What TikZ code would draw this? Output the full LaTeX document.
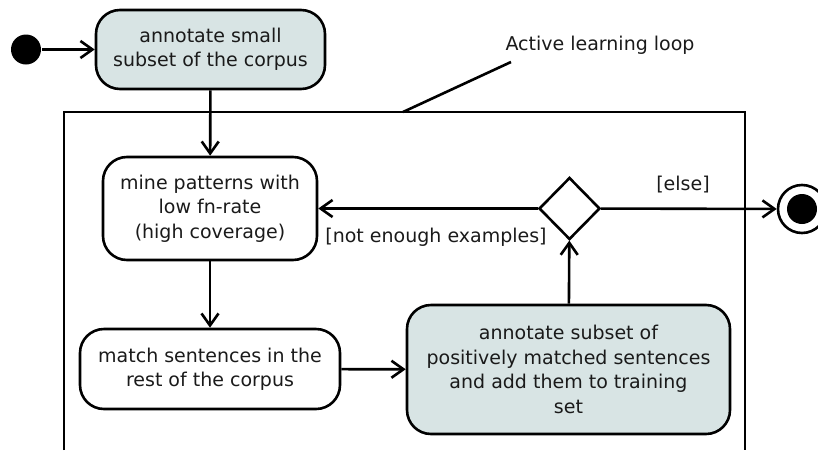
\documentclass[tikz,border=0pt]{standalone}
\usepackage{fontspec}
\setmainfont{DejaVu Sans}
\usetikzlibrary{arrows.meta,shapes.geometric}
\definecolor{actfill}{RGB}{216,228,228}
\definecolor{txt}{RGB}{26,26,26}
\begin{document}
\begin{tikzpicture}[x=1pt,y=-1pt,
  line width=2.6pt,
  font=\fontsize{19}{24.5}\selectfont,
  every node/.style={text=txt},
  act/.style={draw, rounded corners=24pt, align=center, inner sep=0pt},
  annot/.style={act, fill=actfill},
  choice/.style={draw, diamond, inner sep=0pt, minimum width=61pt, minimum height=62pt},
  flow/.style={-{Straight Barb[length=12pt,width=17pt]}},
  guard/.style={inner sep=0pt, align=center}]
\useasboundingbox (0,0) rectangle (818,450);

% initial and final nodes
\node[circle, fill=black, inner sep=0pt, minimum size=30pt] (start) at (26,49.5) {};
\node[circle, draw, inner sep=0pt, minimum size=48pt] (stop) at (802,209) {};
\node[circle, fill=black, inner sep=0pt, minimum size=30pt] (stopdot) at (802,209) {};

% activities
\node[annot, minimum width=229pt, minimum height=79pt] (seed) at (210.5,49.5)
  {annotate small\\subset of the corpus};
\node[act, minimum width=214pt, minimum height=103pt] (mine) at (210,208.5)
  {mine patterns with\\low fn-rate\\(high coverage)};
\node[act, minimum width=260pt, minimum height=80pt] (match) at (210,369)
  {match sentences in the\\rest of the corpus};
\node[annot, minimum width=323pt, minimum height=129pt] (label) at (568.5,369.5)
  {annotate subset of\\positively matched sentences\\and add them to training\\set};
\node[choice] (enough) at (569.5,208.5) {};

% loop frame, open at the bottom, with its note
\coordinate (fbl) at (64,450);
\coordinate (ftr) at (745,112);
\coordinate (fbr) at (745,450);
\draw (fbl) |- (ftr) -- (fbr);
\node (loopnote) at (600,45) {Active learning loop};
\coordinate (notetip) at (511,62);
\coordinate (notefoot) at (403,112);
\draw (notefoot) -- (notetip);

% control flow
\draw[flow] (start) -- (seed);
\draw[flow] (seed) -- (mine);
\draw[flow] (mine) -- (match);
\draw[flow] (match) -- (label);
\draw[flow] (label) -- (enough);
\draw[flow] (enough) -- (mine);
\draw[flow] (enough) -- (stop);

% guards
\node[guard] (notenough) at (436,237) {[not enough examples]};
\node[guard] (elseg) at (683,185) {[else]};
\end{tikzpicture}
\end{document}
